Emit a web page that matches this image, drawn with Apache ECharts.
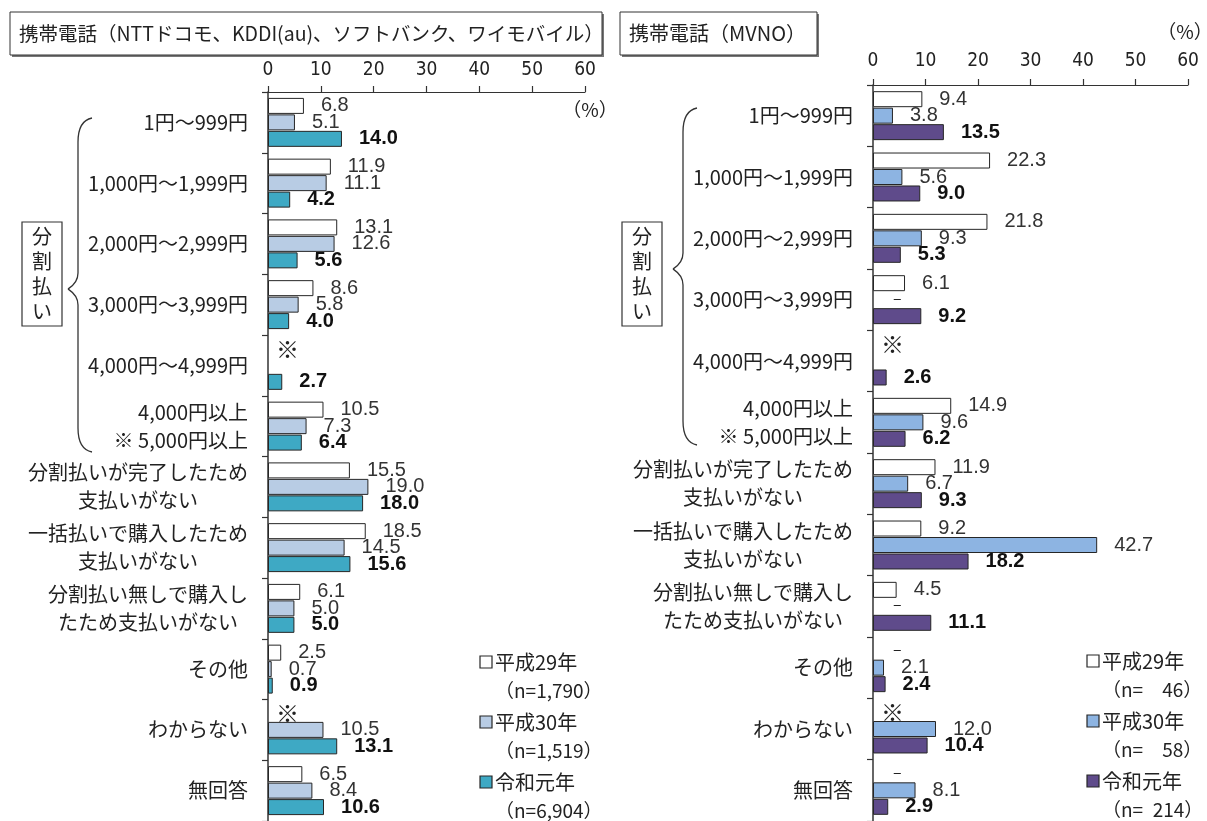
<!DOCTYPE html>
<html>
<head>
<meta charset="utf-8">
<script src="https://cdn.jsdelivr.net/npm/echarts@6/dist/echarts.min.js"></script>
<style>
  html, body { margin: 0; padding: 0; background: #fff; }
  #chart { width: 1207px; height: 821px; }
</style>
</head>
<body>
<div id="chart"></div>
<script>
// Payment categories (shared by both panels)
const categories = [
  '1円～999円',
  '1,000円～1,999円',
  '2,000円～2,999円',
  '3,000円～3,999円',
  '4,000円～4,999円',
  '4,000円以上\n※ 5,000円以上',
  '分割払いが完了したため\n支払いがない',
  '一括払いで購入したため\n支払いがない',
  '分割払い無しで購入し\nたため支払いがない',
  'その他',
  'わからない',
  '無回答'
];

// Survey years and sample sizes
const seriesNames = ['平成29年', '平成30年', '令和元年'];
const sampleLeft = ['1,790', '1,519', '6,904'];
const sampleRight = ['\u2002\u200246', '\u2002\u200258', '\u2002214'];

// Axis ticks (%)
const axisMin = 0;
const axisMax = 60;
const axisStep = 10;

// Left panel: NTT docomo / KDDI(au) / SoftBank / Y!mobile
// '※' = item not asked that year, null = no bar
const leftH29 = [6.8, 11.9, 13.1, 8.6, '※', 10.5, 15.5, 18.5, 6.1, 2.5, '※', 6.5];
const leftH30 = [5.1, 11.1, 12.6, 5.8, null, 7.3, 19.0, 14.5, 5.0, 0.7, 10.5, 8.4];
const leftR1  = [14.0, 4.2, 5.6, 4.0, 2.7, 6.4, 18.0, 15.6, 5.0, 0.9, 13.1, 10.6];

// Right panel: MVNO ('–' = no respondents)
const rightH29 = [9.4, 22.3, 21.8, 6.1, '※', 14.9, 11.9, 9.2, 4.5, '–', '※', '–'];
const rightH30 = [3.8, 5.6, 9.3, '–', null, 9.6, 6.7, 42.7, '–', 2.1, 12.0, 8.1];
const rightR1  = [13.5, 9.0, 5.3, 9.2, 2.6, 6.2, 9.3, 18.2, 11.1, 2.4, 10.4, 2.9];

const CJK = "'Noto Sans CJK JP', 'Noto Sans', sans-serif";
const NUM = "'Liberation Sans', Arial, sans-serif";
const AXNUM = "'Liberation Sans Narrow', 'DejaVu Sans Condensed', 'Liberation Sans', sans-serif";

const leftColors = ['#ffffff', '#b8cce4', '#3ea9c4'];
const rightColors = ['#ffffff', '#8db4e2', '#5f4b8b'];

function catFormatter(v) {
  if (v.indexOf('\n') < 0 || v.indexOf('4,000円以上') === 0) return v;
  return v.split('\n').map(s => '{c|' + s + '}').join('\n');
}

function makeYAxis(gridIndex) {
  return {
    type: 'category', gridIndex: gridIndex, data: categories, inverse: true,
    axisLine: { show: true, lineStyle: { color: '#333', width: 1.5 } },
    axisTick: { show: true, length: 6, interval: 0, lineStyle: { color: '#333', width: 1.2 } },
    axisLabel: {
      interval: 0, margin: 20, fontSize: 20, color: '#222', fontFamily: CJK,
      lineHeight: 28, formatter: catFormatter,
      rich: { c: { align: 'center', fontSize: 20, color: '#222', fontFamily: CJK, lineHeight: 28 } }
    }
  };
}

function makeXAxis(gridIndex, margin) {
  return {
    type: 'value', gridIndex: gridIndex, position: 'top',
    min: axisMin, max: axisMax, interval: axisStep,
    splitLine: { show: false },
    axisLine: { show: true, lineStyle: { color: '#333', width: 1.2 } },
    axisTick: { show: true, length: 6, lineStyle: { color: '#333', width: 1.2 } },
    axisLabel: { margin: margin, fontSize: 19, color: '#222', fontFamily: AXNUM }
  };
}

function makeData(values, markDistance) {
  return values.map(v => {
    if (typeof v === 'string') {
      const isStar = v === '※';
      return {
        value: 0,
        itemStyle: { color: 'transparent', borderWidth: 0 },
        label: {
          formatter: v, fontFamily: CJK, fontWeight: 'normal', color: '#222',
          fontSize: isStar ? 23 : 16, distance: isStar ? 8 : markDistance,
          offset: isStar ? [0, 0] : [0, -2]
        }
      };
    }
    return v;
  });
}

function makeSeries(values, idx, panel, colors) {
  const bold = idx === 2;
  return {
    type: 'bar', name: seriesNames[idx],
    xAxisIndex: panel, yAxisIndex: panel,
    data: makeData(values, 20),
    barWidth: 16, barGap: '3%',
    itemStyle: { color: colors[idx], borderColor: '#262626', borderWidth: 1 },
    label: {
      show: true, position: 'right', distance: 17,
      fontFamily: NUM, fontSize: 20,
      fontWeight: bold ? 'bold' : 'normal',
      color: bold ? '#111' : '#333',
      formatter: p => (typeof p.value === 'number' ? p.value.toFixed(1) : '')
    },
    emphasis: { disabled: true },
    animation: false
  };
}

function legendGraphics(x, y0, colors, samples) {
  const out = [];
  seriesNames.forEach((name, i) => {
    const y = y0 + i * 60;
    out.push({ type: 'rect', shape: { x: x, y: y - 6, width: 12, height: 12 },
      style: { fill: colors[i], stroke: '#262626', lineWidth: 1.2 } });
    out.push({ type: 'text', x: x + 15, y: y,
      style: { text: name, font: '20px ' + CJK, fill: '#222',
        align: 'left', verticalAlign: 'middle' } });
    out.push({ type: 'text', x: x + 15, y: y + 29,
      style: { text: '（n=' + samples[i] + '）', font: '19px ' + CJK, fill: '#222',
        align: 'left', verticalAlign: 'middle' } });
  });
  return out;
}

function titleBox(x, y, w, h, text, size) {
  return [
    { type: 'rect', shape: { x: x + 2, y: y + 2, width: w, height: h }, style: { fill: '#777' } },
    { type: 'rect', shape: { x: x, y: y, width: w, height: h }, style: { fill: '#fff', stroke: '#333', lineWidth: 1 } },
    { type: 'text', x: x + 9, y: y + h / 2,
      style: { text: text, font: size + 'px ' + CJK, fill: '#222',
        align: 'left', verticalAlign: 'middle' } }
  ];
}

// Curly brace drawn from straight segments and cubic curves
function brace(xr, xl, xp, yTop, yMid, yBot) {
  const s = { fill: 'none', stroke: '#333', lineWidth: 1.3 };
  return [
    { type: 'bezierCurve', shape: { x1: xr, y1: yTop, cpx1: xl + 4, cpy1: yTop + 2, cpx2: xl, cpy2: yTop + 10, x2: xl, y2: yTop + 24 }, style: s },
    { type: 'line', shape: { x1: xl, y1: yTop + 24, x2: xl, y2: yMid - 16 }, style: s },
    { type: 'bezierCurve', shape: { x1: xl, y1: yMid - 16, cpx1: xl, cpy1: yMid - 6, cpx2: xp + 3, cpy2: yMid - 2, x2: xp, y2: yMid }, style: s },
    { type: 'bezierCurve', shape: { x1: xp, y1: yMid, cpx1: xp + 3, cpy1: yMid + 2, cpx2: xl, cpy2: yMid + 6, x2: xl, y2: yMid + 16 }, style: s },
    { type: 'line', shape: { x1: xl, y1: yMid + 16, x2: xl, y2: yBot - 24 }, style: s },
    { type: 'bezierCurve', shape: { x1: xl, y1: yBot - 24, cpx1: xl, cpy1: yBot - 10, cpx2: xl + 4, cpy2: yBot - 2, x2: xr, y2: yBot }, style: s }
  ];
}

function bracketBox(boxX, boxY) {
  return [
    { type: 'rect', shape: { x: boxX, y: boxY, width: 40, height: 104 },
      style: { fill: '#fff', stroke: '#333', lineWidth: 1.2 } },
    { type: 'text', x: boxX + 20, y: boxY + 52,
      style: { text: '分\n割\n払\nい', font: '20px ' + CJK, fill: '#222', lineHeight: 25,
        align: 'center', verticalAlign: 'middle' } }
  ];
}

const chart = echarts.init(document.getElementById('chart'), null, { renderer: 'canvas' });

chart.setOption({
  backgroundColor: '#ffffff',
  animation: false,
  grid: [
    { left: 268, right: 1207 - 585, top: 92, height: 732 },
    { left: 873, right: 1207 - 1188, top: 85, height: 739 }
  ],
  xAxis: [makeXAxis(0, 12), makeXAxis(1, 14)],
  yAxis: [makeYAxis(0), makeYAxis(1)],
  series: [
    makeSeries(leftH29, 0, 0, leftColors),
    makeSeries(leftH30, 1, 0, leftColors),
    makeSeries(leftR1, 2, 0, leftColors),
    makeSeries(rightH29, 0, 1, rightColors),
    makeSeries(rightH30, 1, 1, rightColors),
    makeSeries(rightR1, 2, 1, rightColors)
  ],
  graphic: [].concat(
    titleBox(10, 12, 592, 43, '携帯電話（NTTドコモ、KDDI(au)、ソフトバンク、ワイモバイル）', 19.5),
    titleBox(620, 12, 197, 43, '携帯電話（MVNO）', 20),
    [
      { type: 'text', x: 590, y: 110,
        style: { text: '（%）', font: '19px ' + CJK, fill: '#222', align: 'center', verticalAlign: 'middle' } },
      { type: 'text', x: 1185, y: 32,
        style: { text: '（%）', font: '19px ' + CJK, fill: '#222', align: 'center', verticalAlign: 'middle' } }
    ],
    bracketBox(22, 222),
    bracketBox(622, 222),
    brace(92, 78, 68, 118, 289, 452),
    brace(697, 683, 673, 108, 269, 445),
    legendGraphics(480, 662, leftColors, sampleLeft),
    legendGraphics(1087, 661, rightColors, sampleRight)
  )
});
</script>
</body>
</html>
